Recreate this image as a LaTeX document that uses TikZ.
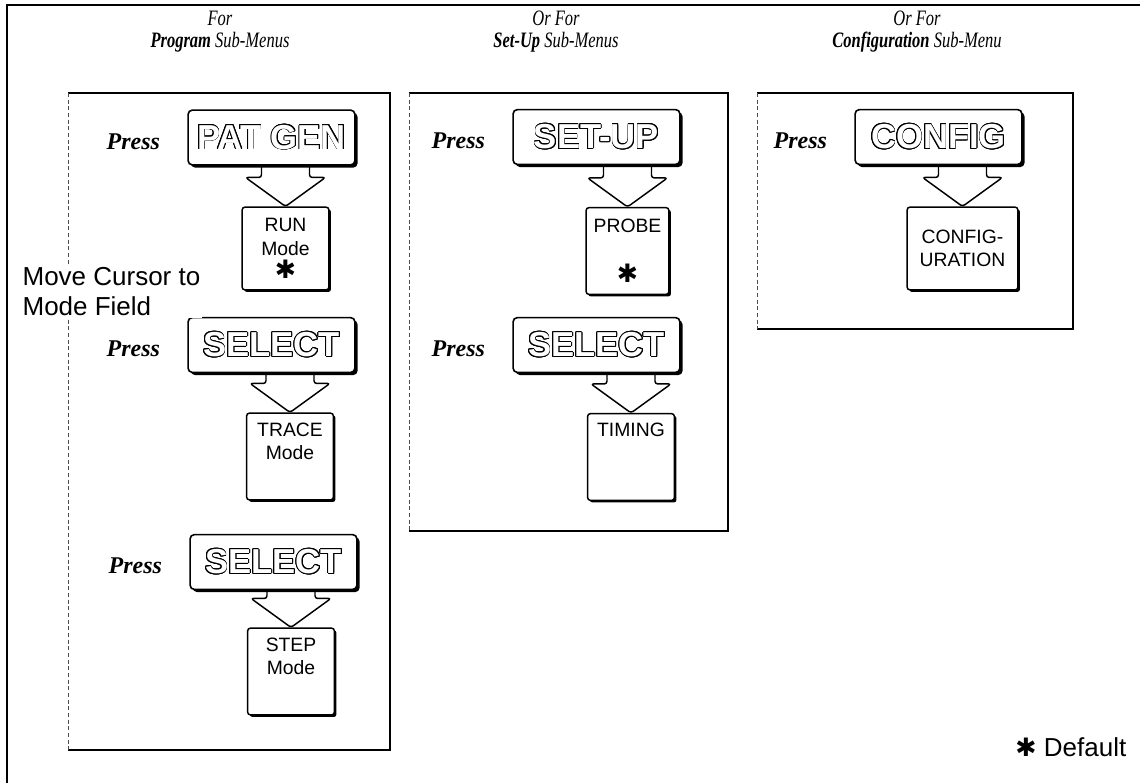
\documentclass[tikz,border=0pt]{standalone}
\usepackage{fontspec}
\setmainfont{Liberation Serif}
\setsansfont{Liberation Sans}
\newfontfamily\symfont{DejaVu Sans}
\newfontfamily\headfont[FakeStretch=0.75]{Liberation Serif}
\usepackage{contour}
\contourlength{0.65pt}
\usetikzlibrary{positioning,calc,shadows}
\newcommand{\defaultmark}{{\symfont\fontsize{19}{19}\selectfont ✱}}

\begin{document}
\begin{tikzpicture}[x=0.75pt, y=-0.75pt,
        panel/.style={draw, line width=1pt},
        panelside/.style={draw, line width=0.6pt, densely dashed, black!70},
        key/.style={draw, fill=white, line width=1.2pt, rounded corners=3pt, minimum width=125pt, minimum height=41pt, text=white,
            font=\sffamily\bfseries\fontsize{26}{28}\selectfont,
            drop shadow={shadow xshift=2pt, shadow yshift=-2pt, fill=black, opacity=1}},
        modebox/.style={draw, fill=white, line width=1.1pt, rounded corners=2pt, minimum width=65pt, minimum height=65pt, align=center, inner sep=1pt,
            font=\sffamily\fontsize{14.5}{17.5}\selectfont,
            drop shadow={shadow xshift=1.6pt, shadow yshift=-1.6pt, fill=black, opacity=1}},
        press/.style={font=\bfseries\itshape\fontsize{18}{18}\selectfont},
        head/.style={align=center, font=\headfont\itshape\fontsize{16.5}{16.5}\selectfont},
        note/.style={align=left, font=\sffamily\fontsize{19.5}{22.5}\selectfont},
        fatarrow/.style={draw, line width=1.1pt, rounded corners=2pt, line join=round}
    ]
        \useasboundingbox (0,0) rectangle (1140,783);
        \draw[line width=1.2pt] (7,783) -- (7,5) -- (1140,5);

        % panels
        \draw[panel] (68,93) -- (390,93) -- (390,750) -- (68,750);
        \draw[panelside] (68,93) -- (68,750);
        \draw[panel] (409,93) -- (728,93) -- (728,531) -- (409,531);
        \draw[panelside] (409,93) -- (409,531);
        \draw[panel] (757,93) -- (1073,93) -- (1073,329) -- (757,329);
        \draw[panelside] (757,93) -- (757,329);

        \node[head] (head1) at (220,32) {For\\\textbf{Program} Sub-Menus};
        \node[head] (head2) at (556,32) {Or For\\\textbf{Set-Up} Sub-Menus};
        \node[head] (head3) at (917,32) {Or For\\\textbf{Configuration} Sub-Menu};

        % program column
        \node[key] (patgen) at (271.5,137.5) {\contour{black}{PAT GEN}};
        \node[modebox, minimum height=62pt] (run) at (285.5,248.5) {RUN\\Mode\\\defaultmark};
        \node[key] (sel1) at (271.5,345) {\contour{black}{SELECT}};
        \node[modebox] (trace) at (290,456.5) {TRACE\\Mode\\\strut};
        \node[key] (sel2) at (273.5,562) {\contour{black}{SELECT}};
        \node[modebox] (step) at (291,671.5) {STEP\\Mode\\\strut};

        % set-up column
        \node[key] (setup) at (596.5,137) {\contour{black}{SET-UP}};
        \node[modebox, minimum width=62pt] (probe) at (627.5,251) {PROBE\\\strut\\\defaultmark};
        \node[key] (sel3) at (596.5,345) {\contour{black}{SELECT}};
        \node[modebox] (timing) at (631,457) {TIMING\\\strut\\\strut};

        % configuration column
        \node[key] (config) at (938.5,137) {\contour{black}{CONFIG}};
        \node[modebox, minimum width=83pt, minimum height=62pt] (cfgbox) at (962.5,248.5) {CONFIG-\\URATION};

        \node[press, left=17pt of patgen, yshift=-3pt] (press1) {Press};
        \node[press, left=17pt of sel1, yshift=-3pt] (press2) {Press};
        \node[press, left=17pt of sel2, yshift=-3pt] (press3) {Press};
        \node[press, left=17pt of setup, yshift=-3pt] (press4) {Press};
        \node[press, left=17pt of sel3, yshift=-3pt] (press5) {Press};
        \node[press, left=17pt of config, yshift=-3pt] (press6) {Press};

        \node[note, anchor=west, fill=white, inner sep=1pt] (cursor) at (21,292) {Move Cursor to\\Mode Field};
        \node[note, anchor=base east] (dflt) at (1131,756) {\defaultmark\ Default};

        \foreach \keyname/\boxname in {patgen/run, sel1/trace, sel2/step, setup/probe, sel3/timing, config/cfgbox}
            \draw[fatarrow] ($(\keyname.south -| \boxname.north)+(-24,0)$) -- ($(\boxname.north)+(-24,-29)$)
                -- ($(\boxname.north)+(-40,-29)$) -- (\boxname.north) -- ($(\boxname.north)+(40,-29)$)
                -- ($(\boxname.north)+(24,-29)$) -- ($(\keyname.south -| \boxname.north)+(24,0)$);
    \end{tikzpicture}
\end{document}
